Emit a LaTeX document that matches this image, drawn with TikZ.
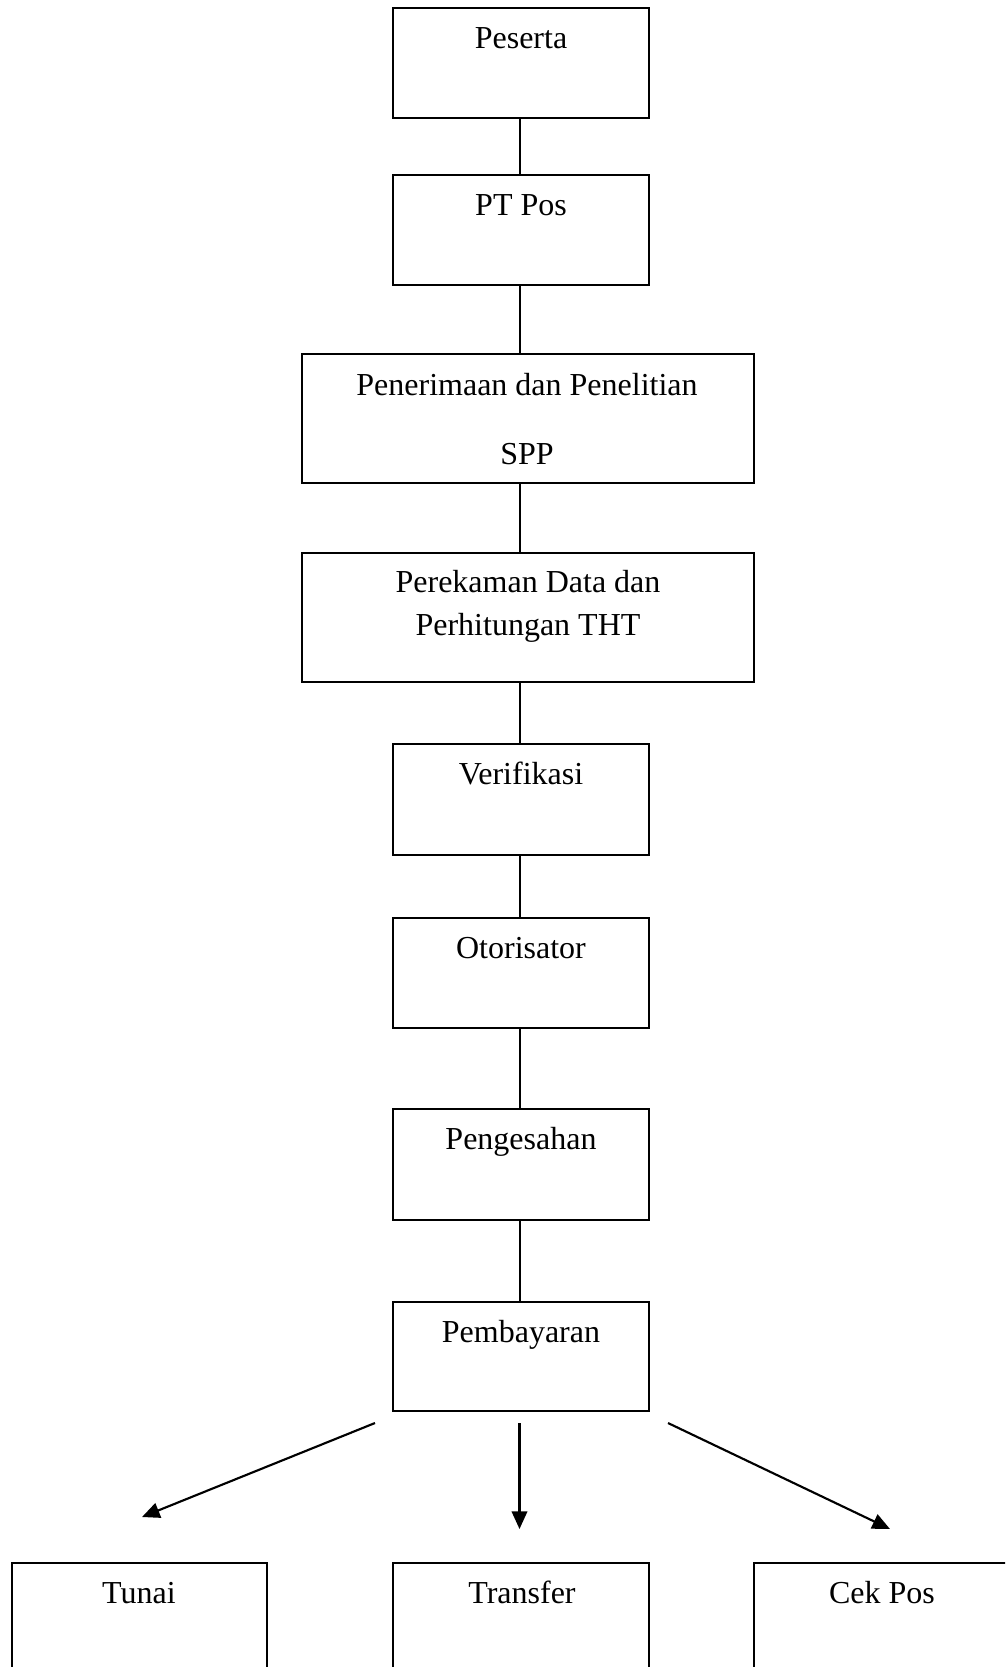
\documentclass[tikz,border=0pt]{standalone}
\usepackage{fontspec}
\setmainfont{Liberation Serif}
\usetikzlibrary{arrows.meta}
\newdimen\pxu
\pxu=0.375pt
\tikzset{
  box/.style={draw, line width=0.75pt, rectangle, inner sep=0pt},
  boxtext/.style={anchor=base, inner sep=0pt, font=\fontsize{12}{14}\selectfont},
  link/.style={line width=0.75pt},
  branch/.style={line width=0.8pt, -{Triangle[length=6.6pt,width=5.8pt]}},
}
% place a box by its corners (in pixel units)
\newcommand{\flowbox}[5]{%
  \node[box, minimum width={(#4-#2)*\pxu}, minimum height={(#5-#3)*\pxu}]
    (#1) at ({(#2+#4)/2},{(#3+#5)/2}) {};
}
\begin{document}
\begin{tikzpicture}[x=0.375pt, y=-0.375pt]
\useasboundingbox (0,0) rectangle (1005,1667);
\clip (0,0) rectangle (1005,1667);

% process chain
\flowbox{peserta}{393}{8}{649}{118}
\flowbox{ptpos}{393}{175}{649}{285}
\flowbox{terima}{302}{354}{754}{483}
\flowbox{rekam}{302}{553}{754}{682}
\flowbox{verif}{393}{744}{649}{855}
\flowbox{otor}{393}{918}{649}{1028}
\flowbox{sah}{393}{1109}{649}{1220}
\flowbox{bayar}{393}{1302}{649}{1411}
% payment methods
\flowbox{tunai}{12}{1563}{267}{1673}
\flowbox{transfer}{393}{1563}{649}{1673}
\flowbox{cekpos}{754}{1563}{1009}{1673}

% box texts
\node[boxtext] (tpeserta) at (521,48) {Peserta};
\node[boxtext] (tptpos) at (521,215) {PT Pos};
\node[boxtext] (tterima1) at (527,395) {Penerimaan dan Penelitian};
\node[boxtext] (tterima2) at (527,464) {SPP};
\node[boxtext] (trekam1) at (528,592) {Perekaman Data dan};
\node[boxtext] (trekam2) at (528,635) {Perhitungan THT};
\node[boxtext] (tverif) at (521,784) {Verifikasi};
\node[boxtext] (totor) at (521,958) {Otorisator};
\node[boxtext] (tsah) at (521,1149) {Pengesahan};
\node[boxtext] (tbayar) at (521,1342) {Pembayaran};
\node[boxtext] (ttunai) at (139,1603) {Tunai};
\node[boxtext] (ttransfer) at (522,1603) {Transfer};
\node[boxtext] (tcekpos) at (882,1603) {Cek Pos};

% vertical spine of the chain
\coordinate (spine) at (519.5,0);
\draw[link] (peserta.south -| spine) -- (ptpos.north -| spine);
\draw[link] (ptpos.south -| spine) -- (terima.north -| spine);
\draw[link] (terima.south -| spine) -- (rekam.north -| spine);
\draw[link] (rekam.south -| spine) -- (verif.north -| spine);
\draw[link] (verif.south -| spine) -- (otor.north -| spine);
\draw[link] (otor.south -| spine) -- (sah.north -| spine);
\draw[link] (sah.south -| spine) -- (bayar.north -| spine);

% branching arrows
\coordinate (s1) at (375,1423);
\coordinate (e1) at (142,1517);
\coordinate (s2) at (519.5,1423);
\coordinate (e2) at (519.5,1529);
\coordinate (s3) at (668,1423);
\coordinate (e3) at (890,1529);
\draw[branch] (s1) -- (e1);
\draw[branch] (s2) -- (e2);
\draw[branch] (s3) -- (e3);
\end{tikzpicture}
\end{document}
